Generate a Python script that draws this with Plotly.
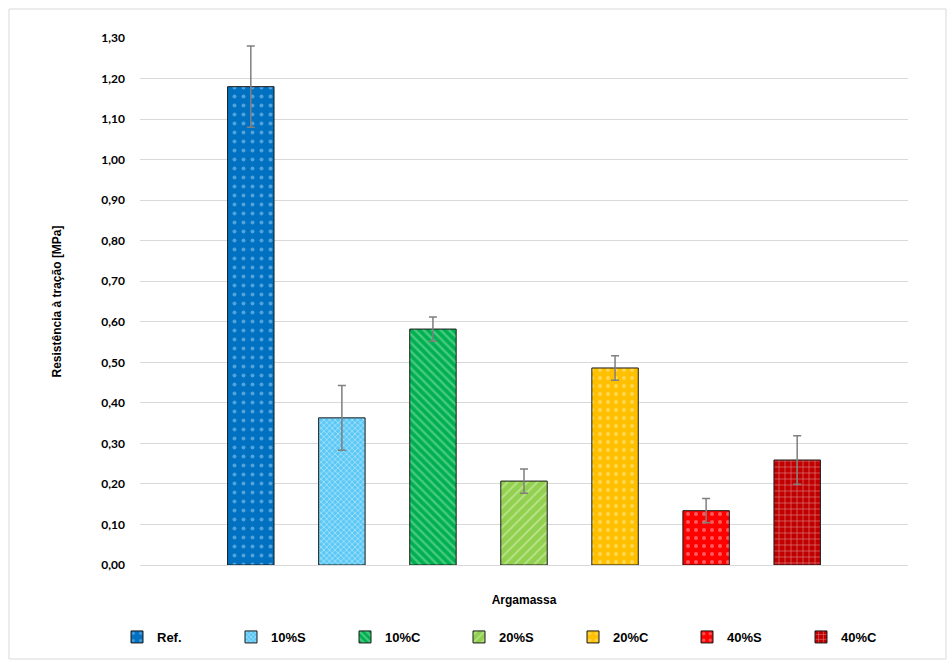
import plotly.graph_objects as go

series = ["Ref.", "10%S", "10%C", "20%S", "20%C", "40%S", "40%C"]
values = [1.18, 0.363, 0.582, 0.207, 0.486, 0.134, 0.259]
errors = [0.10, 0.08, 0.03, 0.03, 0.03, 0.03, 0.06]
colors = ["#0070C0", "#5BC8F5", "#00B050", "#92D050", "#FFC000", "#FF0000", "#C00000"]
fgcolors = ["#9DD3F5", "#FFFFFF", "#8FE3B0", "#E5F5C8", "#FFE9A8", "#FFB3B3", "#FFFFFF"]
shapes_p = [".", "x", "\\", "/", ".", ".", "+"]
sizes_p = [9, 4, 6, 7, 8, 8, 6]
solid = [0.15, 0.35, 0.4, 0.25, 0.2, 0.2, 0.2]

W, H = 947, 660
ml, mr, mt, mb = 140, 39, 38, 95
pw, ph = W - ml - mr, H - mt - mb

fig = go.Figure()
for i, name in enumerate(series):
    fig.add_trace(go.Bar(
        x=[0], y=[values[i]], name=name,
        marker=dict(color=colors[i], line=dict(color="#1a1a1a", width=1),
                    pattern=dict(shape=shapes_p[i], fgcolor=fgcolors[i],
                                 size=sizes_p[i], solidity=solid[i], fillmode="overlay")),
        error_y=dict(type="data", array=[errors[i]], visible=True,
                     color="#7f7f7f", thickness=1.5, width=4),
    ))

fig.update_layout(
    width=W, height=H,
    margin=dict(l=ml, r=mr, t=mt, b=mb, autoexpand=False),
    paper_bgcolor="white", plot_bgcolor="white",
    barmode="group", bargap=0.17, bargroupgap=0.49,
    separators=",.",
    showlegend=True,
    legend=dict(orientation="h",
                x=(117 - ml) / pw, xanchor="left",
                y=-(637 - (mt + ph)) / ph, yanchor="middle",
                entrywidth=69, entrywidthmode="pixels", itemwidth=30,
                font=dict(family="Liberation Sans, Arial", size=13, color="#000000", weight="bold"),
                traceorder="normal"),
    xaxis=dict(range=[-0.5, 0.5], showticklabels=False, showgrid=False, zeroline=False,
               showline=True, linecolor="#d9d9d9", linewidth=1, ticks="", automargin=False,
               title=dict(text="Argamassa", standoff=30,
                          font=dict(family="Liberation Sans, Arial", size=12, color="#000000", weight="bold"))),
    yaxis=dict(range=[0, 1.30], tickvals=[i / 10 for i in range(14)], tickformat=".2f",
               showgrid=True, gridcolor="#d9d9d9", gridwidth=1, zeroline=False, automargin=False,
               showline=False, ticks="", ticklabelstandoff=14,
               tickfont=dict(family="Lato, Carlito, Calibri", size=12, color="#000000", weight="bold"),
               title=dict(text="Resistência à tração [MPa]", standoff=37,
                          font=dict(family="Liberation Sans, Arial", size=12, color="#000000", weight="bold"))),
    shapes=[dict(type="rect", xref="paper", yref="paper",
                 x0=(9 - ml) / pw, x1=(946 - ml) / pw,
                 y0=(mt + ph - 659) / ph, y1=(mt + ph - 9) / ph,
                 line=dict(color="#d9d9d9", width=1), fillcolor="rgba(0,0,0,0)", layer="below")],
)

fig.write_html("out.html")
